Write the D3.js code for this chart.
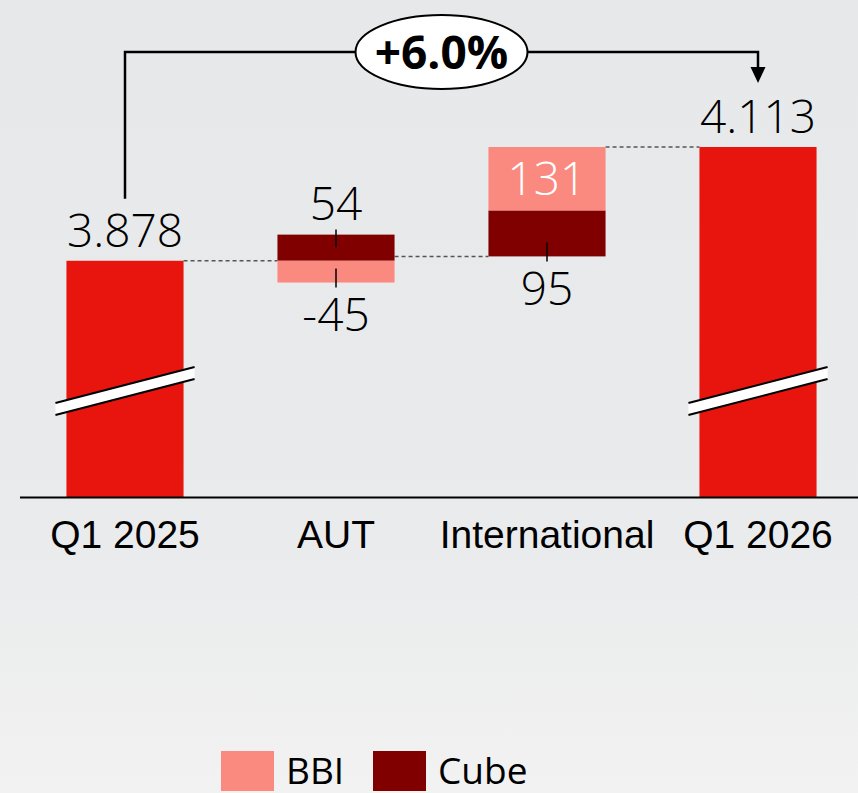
<!DOCTYPE html>
<html lang="en">
<head>
<meta charset="utf-8">
<title>Waterfall Q1 2025 - Q1 2026</title>
<style>
    body { margin: 0; }
    svg { display: block; font-family: "Open Sans", sans-serif; }
    .axis-label { font-size: 39px; fill: #000; }
    .legend-label { font-size: 37px; fill: #000; }
    .value { font-size: 46px; font-weight: 300; fill: #000; }
    .connector { stroke: #555; stroke-width: 1.5px; stroke-dasharray: 4, 3; fill: none; }
    .tick-mark { stroke: #000; stroke-width: 1.5px; }
</style>
</head>
<body>
<script src="https://d3js.org/d3.v7.min.js"></script>
<svg width="858" height="793"></svg>
<script>
// data
var categories = ["Q1 2025", "AUT", "International", "Q1 2026"];
var totals = [3878, null, null, 4113];
var cube = [null, 54, 95, null];
var bbi = [null, -45, 131, null];
var seriesNames = ["BBI", "Cube"];
var growthLabel = "+6.0%";

var colors = { total: "#e8150e", BBI: "#fa8a80", Cube: "#800000" };

var svg = d3.select("svg"),
    W = +svg.attr("width"),
    H = +svg.attr("height");

var axisFloor = 3390,   // value where the cut y axis starts
    breakValue = 3609;  // where the break symbol sits on the total bars

var fmt = d3.formatLocale({ decimal: ",", thousands: ".", grouping: [3], currency: ["", " €"], minus: "-" }).format(",");

// background gradient
var defs = svg.append("defs");
var grad = defs.append("linearGradient").attr("id", "bg").attr("x1", 0).attr("y1", 0).attr("x2", 0).attr("y2", 1);
grad.append("stop").attr("offset", "0%").attr("stop-color", "#e7e8ea");
grad.append("stop").attr("offset", "70%").attr("stop-color", "#eaebec");
grad.append("stop").attr("offset", "100%").attr("stop-color", "#f2f2f2");
svg.append("rect").attr("width", W).attr("height", H).attr("fill", "url(#bg)");

// scales
var x = d3.scaleBand().domain(categories).range([19.5, 863.5])
    .paddingInner(0.445).paddingOuter(0.2225);
var y = d3.scaleLinear().domain([axisFloor, d3.max(totals)]).range([497, 147]);
var bw = x.bandwidth();

// build waterfall pieces
var bars = [], segs = [], ends = [];
var running = 0;
categories.forEach(function(c, i) {
    if (totals[i] != null) {
        running = totals[i];
        bars.push({ cat: c, value: totals[i] });
        ends.push(running);
        return;
    }
    var up = running, down = running;
    var parts = [{ name: "Cube", v: cube[i] }, { name: "BBI", v: bbi[i] }];
    var mine = [];
    parts.forEach(function(p) {
        if (p.v == null) return;
        var s;
        if (p.v >= 0) { s = { cat: c, name: p.name, v: p.v, lo: up, hi: up + p.v }; up += p.v; }
        else { s = { cat: c, name: p.name, v: p.v, lo: down + p.v, hi: down }; down += p.v; }
        mine.push(s);
    });
    var top = d3.max(mine, function(s) { return s.hi; });
    mine.forEach(function(s) {
        var h = y(s.lo) - y(s.hi);
        if (h > 50) s.pos = "inside";
        else if (s.hi === top && s.v >= 0) s.pos = "above";
        else s.pos = "below";
        segs.push(s);
    });
    running = running + d3.sum(mine, function(s) { return s.v; });
    ends.push(running);
});

var g = svg.append("g");

// dashed connectors
g.selectAll(".connector")
    .data(categories.slice(0, -1))
    .enter().append("line")
    .attr("class", "connector")
    .attr("x1", function(c) { return x(c) + bw; })
    .attr("x2", function(c, i) { return x(categories[i + 1]); })
    .attr("y1", function(c, i) { return y(ends[i]); })
    .attr("y2", function(c, i) { return y(ends[i]); });

// total bars
g.selectAll(".total")
    .data(bars)
    .enter().append("rect")
    .attr("class", "total")
    .attr("x", function(d) { return x(d.cat); })
    .attr("width", bw)
    .attr("y", function(d) { return y(d.value); })
    .attr("height", function(d) { return y(axisFloor) - y(d.value); })
    .attr("fill", colors.total);

// break symbols
bars.forEach(function(d) {
    var x0 = x(d.cat) - 11, x1 = x(d.cat) + bw + 11, yc = y(breakValue);
    g.append("polygon")
        .attr("points", [[x0, yc + 12], [x1, yc - 24], [x1, yc - 12], [x0, yc + 24]].join(" "))
        .attr("fill", "#fff");
    [-6, 6].forEach(function(o) {
        g.append("line")
            .attr("x1", x0).attr("y1", yc + 18 + o)
            .attr("x2", x1).attr("y2", yc - 18 + o)
            .attr("stroke", "#000").attr("stroke-width", 2);
    });
});

// stacked delta segments
g.selectAll(".seg")
    .data(segs)
    .enter().append("rect")
    .attr("class", "seg")
    .attr("x", function(d) { return x(d.cat); })
    .attr("width", bw)
    .attr("y", function(d) { return y(d.hi); })
    .attr("height", function(d) { return y(d.lo) - y(d.hi); })
    .attr("fill", function(d) { return colors[d.name]; });

// segment ticks + labels
segs.forEach(function(d) {
    var cx = x(d.cat) + bw / 2;
    if (d.pos === "inside") {
        g.append("text").attr("class", "value")
            .attr("x", cx).attr("y", (y(d.lo) + y(d.hi)) / 2)
            .attr("dy", "0.36em").attr("text-anchor", "middle")
            .style("fill", "#fff")
            .text(fmt(d.v));
    } else if (d.pos === "above") {
        var t = y(d.hi);
        g.append("line").attr("class", "tick-mark").attr("x1", cx).attr("x2", cx).attr("y1", t - 5).attr("y2", t + 13);
        g.append("text").attr("class", "value")
            .attr("x", cx).attr("y", t - 15).attr("text-anchor", "middle")
            .text(fmt(d.v));
    } else {
        var b = y(d.lo);
        g.append("line").attr("class", "tick-mark").attr("x1", cx).attr("x2", cx).attr("y1", b + 5).attr("y2", b - 14);
        g.append("text").attr("class", "value")
            .attr("x", cx).attr("y", b + 16).attr("dy", "0.71em").attr("text-anchor", "middle")
            .text(fmt(d.v));
    }
});

// total labels
g.selectAll(".total-label")
    .data(bars)
    .enter().append("text")
    .attr("class", "value")
    .attr("x", function(d) { return x(d.cat) + bw / 2; })
    .attr("y", function(d) { return y(d.value) - 14; })
    .attr("text-anchor", "middle")
    .text(function(d) { return fmt(d.value); });

// x axis
var xAxis = g.append("g")
    .attr("transform", "translate(0," + y(axisFloor) + ")")
    .call(d3.axisBottom(x).tickSize(0).tickPadding(23));
xAxis.select(".domain").attr("stroke", "#000").attr("stroke-width", 2);
xAxis.selectAll("text").attr("class", "axis-label").attr("font-size", null).attr("font-family", null).attr("fill", "#000");

// growth arrow
var first = bars[0], last = bars[bars.length - 1];
var ax0 = x(first.cat) + bw / 2, ax1 = x(last.cat) + bw / 2, ay = 52;
g.append("path")
    .attr("d", "M" + ax0 + "," + (y(first.value) - 62) + "V" + ay + "H" + ax1 + "V" + (y(last.value) - 80))
    .attr("fill", "none").attr("stroke", "#000").attr("stroke-width", 2.5);
g.append("path")
    .attr("d", "M" + (ax1 - 7.5) + "," + (y(last.value) - 80) + "L" + (ax1 + 7.5) + "," + (y(last.value) - 80) + "L" + ax1 + "," + (y(last.value) - 64) + "Z")
    .attr("fill", "#000");
var ex = (ax0 + ax1) / 2;
g.append("ellipse")
    .attr("cx", ex).attr("cy", ay).attr("rx", 86).attr("ry", 37)
    .attr("fill", "#fff").attr("stroke", "#000").attr("stroke-width", 2);
g.append("text")
    .attr("x", ex).attr("y", ay).attr("dy", "0.36em")
    .attr("text-anchor", "middle")
    .attr("font-size", 46).attr("font-weight", "bold")
    .text(growthLabel);

// legend
var legend = svg.append("g").attr("transform", "translate(221,751)");
var li = legend.selectAll("g")
    .data(seriesNames)
    .enter().append("g")
    .attr("transform", function(d, i) { return "translate(" + (i * 152) + ",0)"; });
li.append("rect").attr("width", 53).attr("height", 40).attr("fill", function(d) { return colors[d]; });
li.append("text").attr("class", "legend-label").attr("x", 65).attr("y", 33).text(function(d) { return d; });
</script>
</body>
</html>
